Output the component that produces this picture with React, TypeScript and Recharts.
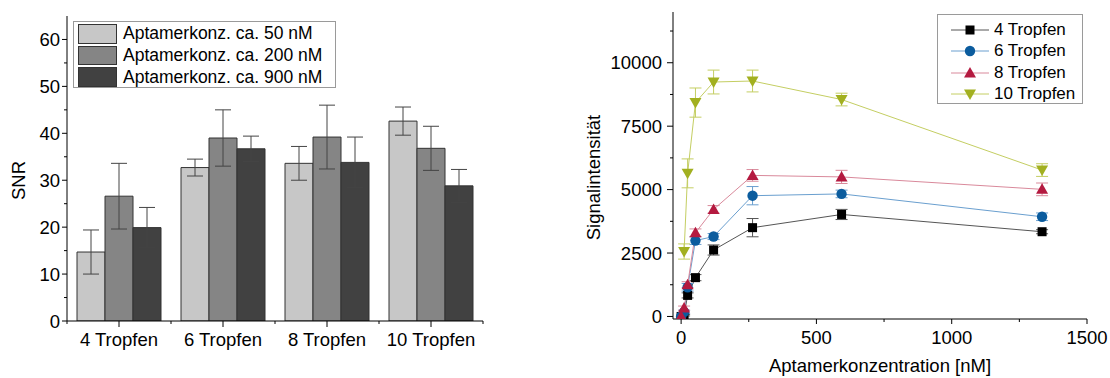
import React from "react";
import {
  BarChart,
  Bar,
  ErrorBar,
  XAxis,
  YAxis,
  ComposedChart,
  Line,
  Legend,
  Label,
} from "recharts";

const FONT = '"Liberation Sans", Arial, sans-serif';

// left chart: SNR per drop count, three aptamer concentrations
const categories = ["4 Tropfen", "6 Tropfen", "8 Tropfen", "10 Tropfen"];
const snr50 = [14.7, 32.7, 33.6, 42.6];
const snr50Err = [4.7, 1.8, 3.6, 3.0];
const snr200 = [26.6, 39.0, 39.2, 36.8];
const snr200Err = [7.0, 6.0, 6.8, 4.7];
const snr900 = [19.9, 36.7, 33.8, 28.8];
const snr900Err = [4.3, 2.7, 5.4, 3.5];
const snrTicks = [0, 5, 10, 15, 20, 25, 30, 35, 40, 45, 50, 55, 60];

// right chart: signal vs. aptamer concentration
const conc = [0, 11, 24, 53, 120, 264, 593, 1334];
const sig4 = [0, 50, 830, 1530, 2620, 3500, 4020, 3340];
const sig4Err = [0, 30, 100, 120, 200, 360, 200, 80];
const sig6 = [0, 180, 1150, 2990, 3150, 4760, 4830, 3930];
const sig6Err = [0, 60, 150, 150, 120, 360, 150, 150];
const sig8 = [0, 330, 1250, 3300, 4220, 5560, 5500, 5010];
const sig8Err = [0, 80, 120, 150, 150, 230, 260, 250];
const sig10 = [null, 2560, 5640, 8430, 9240, 9280, 8550, 5770];
const sig10Err = [0, 300, 570, 575, 470, 430, 250, 250];
const concTicks = [0, 250, 500, 750, 1000, 1250, 1500];
const sigTicks = [0, 1250, 2500, 3750, 5000, 6250, 7500, 8750, 10000, 11250];

const barData = categories.map((name, i) => ({
  name,
  v50: snr50[i],
  e50: snr50Err[i],
  v200: snr200[i],
  e200: snr200Err[i],
  v900: snr900[i],
  e900: snr900Err[i],
}));

const barSeries = [
  { key: "v50", err: "e50", name: "Aptamerkonz. ca. 50 nM", color: "#c7c7c7" },
  { key: "v200", err: "e200", name: "Aptamerkonz. ca. 200 nM", color: "#858585" },
  { key: "v900", err: "e900", name: "Aptamerkonz. ca. 900 nM", color: "#414141" },
];

const toPoints = (ys: (number | null)[], errs: number[]) =>
  conc
    .map((x, i) => ({ x, y: ys[i], err: errs[i] }))
    .filter((p) => p.y !== null);

const lineSeries = [
  { name: "4 Tropfen", data: toPoints(sig4, sig4Err), marker: "#000000", line: "#555555", shape: "square" },
  { name: "6 Tropfen", data: toPoints(sig6, sig6Err), marker: "#0b5c9e", line: "#6a9fcf", shape: "circle" },
  { name: "8 Tropfen", data: toPoints(sig8, sig8Err), marker: "#b41a40", line: "#d9899b", shape: "up" },
  { name: "10 Tropfen", data: toPoints(sig10, sig10Err), marker: "#a2b020", line: "#c4ce62", shape: "down" },
];

const Marker = ({ cx, cy, shape, fill }: any) => {
  if (cx == null || cy == null) return null;
  if (shape === "square") return <rect x={cx - 4.5} y={cy - 4.5} width={9} height={9} fill={fill} />;
  if (shape === "circle") return <circle cx={cx} cy={cy} r={5.2} fill={fill} />;
  if (shape === "up")
    return <polygon points={`${cx},${cy - 6} ${cx + 6},${cy + 4.5} ${cx - 6},${cy + 4.5}`} fill={fill} />;
  return <polygon points={`${cx},${cy + 6} ${cx + 6},${cy - 4.5} ${cx - 6},${cy - 4.5}`} fill={fill} />;
};

const textStyle = { fontFamily: FONT, fontSize: 18.5, fill: "#000" };

// y tick with major/minor marks
const YTick = (props: any) => {
  const { x, y, payload, major, size, margin, minor } = props;
  const isMajor = major(payload.value);
  const ax = x + size + margin;
  return (
    <g>
      <line x1={ax} x2={ax - (isMajor ? size : minor)} y1={y} y2={y} stroke="#000" />
      {isMajor && (
        <text x={x} y={y} dy="0.355em" textAnchor="end" style={textStyle}>
          {payload.value}
        </text>
      )}
    </g>
  );
};

const XTick = (props: any) => {
  const { x, y, payload, major, size, margin, minor } = props;
  const isMajor = major(payload.value);
  const ay = y - size - margin;
  return (
    <g>
      <line x1={x} x2={x} y1={ay} y2={ay + (isMajor ? size : minor)} stroke="#000" />
      {isMajor && (
        <text x={x} y={y} dy="0.71em" textAnchor="middle" style={textStyle}>
          {payload.value}
        </text>
      )}
    </g>
  );
};

// category tick: label at band centre, minor marks at band edges
const CatTick = (props: any) => {
  const { x, y, payload, index, visibleTicksCount } = props;
  const ay = y - 12;
  const half = payload.offset ?? 0;
  return (
    <g>
      <line x1={x} x2={x} y1={ay} y2={ay + 6} stroke="#000" />
      <line x1={x - half} x2={x - half} y1={ay} y2={ay + 3} stroke="#000" />
      {index === visibleTicksCount - 1 && (
        <line x1={x + half} x2={x + half} y1={ay} y2={ay + 3} stroke="#000" />
      )}
      <text x={x} y={y} dy="0.71em" textAnchor="middle" style={textStyle}>
        {payload.value}
      </text>
    </g>
  );
};

const RotLabel = ({ viewBox, text, dx }: any) => {
  const cx = viewBox.x + dx;
  const cy = viewBox.y + viewBox.height / 2 + 12;
  return (
    <text
      x={cx}
      y={cy}
      transform={`rotate(-90 ${cx} ${cy})`}
      textAnchor="middle"
      dominantBaseline="central"
      style={textStyle}
    >
      {text}
    </text>
  );
};

const BarLegend = () => (
  <div
    style={{
      border: "1px solid #9a9a9a",
      background: "#fff",
      boxSizing: "border-box",
      width: "100%",
      height: "100%",
      padding: "1px 4px",
      fontFamily: FONT,
      fontSize: 17.5,
    }}
  >
    {barSeries.map((s) => (
      <div key={s.key} style={{ display: "flex", alignItems: "center", height: 21.7 }}>
        <div
          style={{
            width: 39,
            height: 19.5,
            background: s.color,
            border: "1px solid #333",
            boxSizing: "border-box",
            marginRight: 6,
          }}
        />
        <span>{s.name}</span>
      </div>
    ))}
  </div>
);

const LineLegend = () => (
  <div
    style={{
      border: "1px solid #9a9a9a",
      background: "#fff",
      boxSizing: "border-box",
      width: "100%",
      height: "100%",
      padding: "4px 0 0 13px",
      fontFamily: FONT,
      fontSize: 17,
    }}
  >
    {lineSeries.map((s) => (
      <div key={s.name} style={{ display: "flex", alignItems: "center", height: 21.5 }}>
        <svg width={38} height={14} style={{ marginRight: 5 }}>
          <line x1={0} x2={38} y1={7} y2={7} stroke={s.line} strokeWidth={1} />
          <Marker cx={19} cy={7} shape={s.shape} fill={s.marker} />
        </svg>
        <span>{s.name}</span>
      </div>
    ))}
  </div>
);

export default function App() {
  return (
    <div style={{ position: "absolute", left: 0, top: 0, width: 1110, height: 378, background: "#fff" }}>
      <div style={{ position: "absolute", left: 0, top: 0 }}>
        <BarChart
          width={500}
          height={378}
          data={barData}
          margin={{ top: 16, right: 17, bottom: 0, left: 17 }}
          barCategoryGap={10}
          barGap={0}
        >
          <XAxis
            dataKey="name"
            height={57}
            axisLine={{ stroke: "#000" }}
            tickLine={false}
            tickSize={6}
            tickMargin={6}
            tick={(p: any) => <CatTick {...p} />}
            interval={0}
          />
          <XAxis xAxisId="top" dataKey="name" orientation="top" height={0} tick={false} tickLine={false} axisLine={{ stroke: "#222" }} />
          <YAxis
            type="number"
            domain={[0, 65]}
            ticks={snrTicks}
            allowDataOverflow
            width={50}
            axisLine={{ stroke: "#000" }}
            tickLine={false}
            tickSize={5}
            tickMargin={2}
            interval={0}
            tick={(p: any) => (
              <YTick {...p} major={(v: number) => v % 10 === 0} size={5} margin={2} minor={3} />
            )}
          >
            <Label content={(p: any) => <RotLabel {...p} text="SNR" dx={1} />} />
          </YAxis>
          <YAxis yAxisId="right" orientation="right" type="number" domain={[0, 65]} width={0} tick={false} tickLine={false} axisLine={{ stroke: "#222" }} />
          {barSeries.map((s) => (
            <Bar key={s.key} dataKey={s.key} name={s.name} fill={s.color} stroke="#333" strokeWidth={1} isAnimationActive={false}>
              <ErrorBar dataKey={s.err} width={8} stroke="#444" strokeWidth={1} direction="y" />
            </Bar>
          ))}
          <Legend
            layout="vertical"
            align="center"
            verticalAlign="middle"
            content={() => <BarLegend />}
            wrapperStyle={{ left: 73, top: 21, width: 263, height: 67 }}
          />
        </BarChart>
      </div>

      <div style={{ position: "absolute", left: 560, top: 0 }}>
        <ComposedChart width={550} height={378} margin={{ top: 12, right: 23, bottom: 0, left: 53 }}>
          <XAxis
            dataKey="x"
            type="number"
            domain={[-30, 1500]}
            ticks={concTicks}
            allowDataOverflow
            height={59}
            axisLine={{ stroke: "#000" }}
            tickLine={false}
            tickSize={5}
            tickMargin={7}
            interval={0}
            tick={(p: any) => (
              <XTick {...p} major={(v: number) => v % 500 === 0} size={5} margin={7} minor={3} />
            )}
          >
            <Label value="Aptamerkonzentration [nM]" position="insideBottom" offset={6} style={textStyle} />
          </XAxis>
          <XAxis xAxisId="top" type="number" domain={[-30, 1500]} orientation="top" height={0} tick={false} tickLine={false} axisLine={{ stroke: "#222" }} />
          <YAxis
            type="number"
            domain={[-100, 12000]}
            ticks={sigTicks}
            allowDataOverflow
            width={60}
            axisLine={{ stroke: "#000" }}
            tickLine={false}
            tickSize={6}
            tickMargin={5}
            interval={0}
            tick={(p: any) => (
              <YTick {...p} major={(v: number) => v % 2500 === 0} size={6} margin={5} minor={3} />
            )}
          >
            <Label content={(p: any) => <RotLabel {...p} text="Signalintensität" dx={-20} />} />
          </YAxis>
          <YAxis yAxisId="right" orientation="right" type="number" domain={[-100, 12000]} width={0} tick={false} tickLine={false} axisLine={{ stroke: "#222" }} />
          {lineSeries.map((s) => (
            <Line
              key={s.name}
              data={s.data}
              dataKey="y"
              name={s.name}
              stroke={s.line}
              strokeWidth={1}
              isAnimationActive={false}
              dot={(p: any) => (
                <Marker key={`${s.name}-${p.index}`} cx={p.cx} cy={p.cy} shape={s.shape} fill={s.marker} />
              )}
              activeDot={false}
            >
              <ErrorBar dataKey="err" width={6} stroke={s.line} strokeWidth={1} direction="y" />
            </Line>
          ))}
          <Legend
            layout="vertical"
            align="center"
            verticalAlign="middle"
            content={() => <LineLegend />}
            wrapperStyle={{ left: 377, top: 14, width: 146, height: 90 }}
          />
        </ComposedChart>
      </div>
    </div>
  );
}
